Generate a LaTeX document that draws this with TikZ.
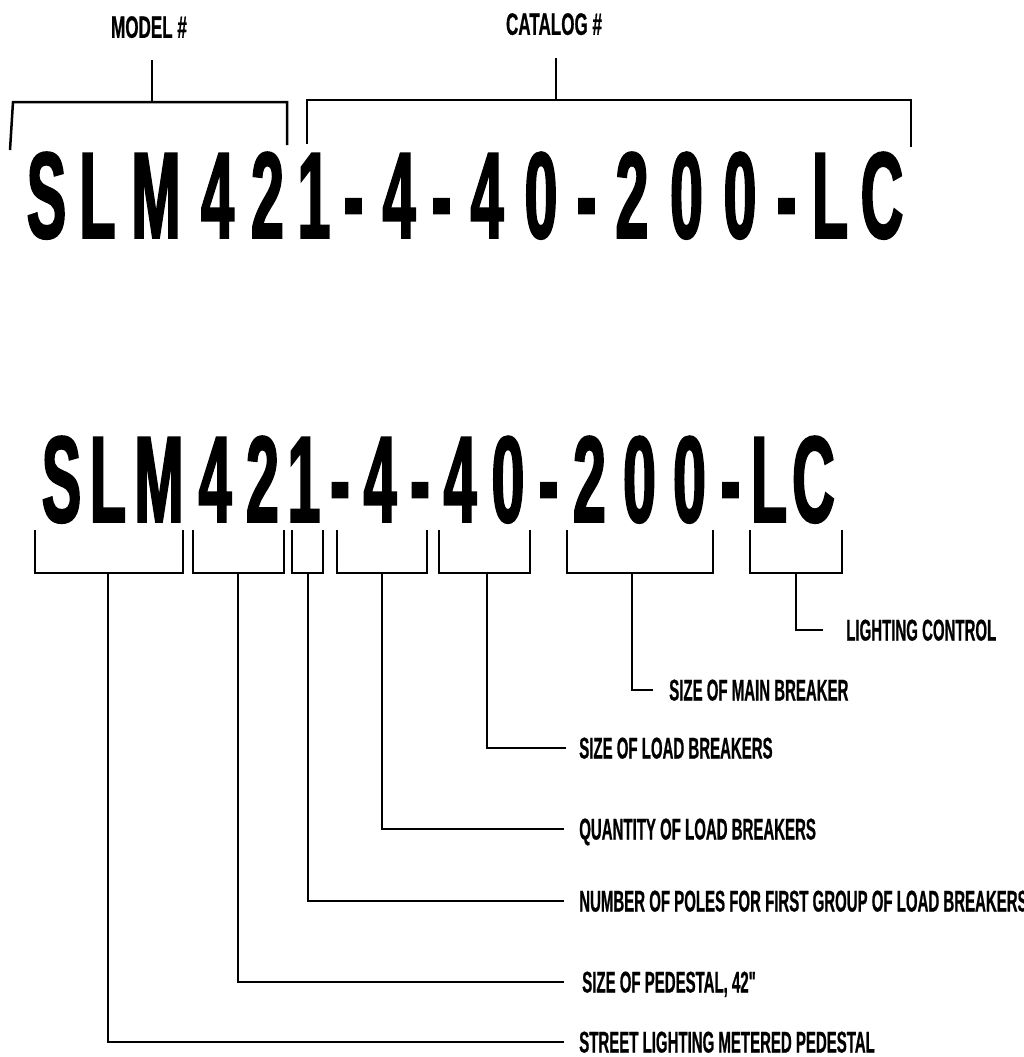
\documentclass[tikz,border=0pt]{standalone}
\usepackage{fontspec}
\newfontfamily\codefont[FakeStretch=0.48,FakeBold=1.5]{Liberation Sans}
\newfontfamily\tagfont[FakeStretch=0.5,FakeBold=0.6]{Liberation Sans}
\newfontfamily\headfont[FakeStretch=0.55,FakeBold=0.6]{Liberation Sans}

\begin{document}
\begin{tikzpicture}[x=1pt,y=-1pt,line width=2.5pt,
        code/.style={anchor=base,inner sep=0pt,font=\codefont\bfseries\fontsize{123}{123}\selectfont},
        tag/.style={anchor=west,inner sep=0pt,text height=21pt,text depth=0pt,font=\tagfont\bfseries\fontsize{30}{30}\selectfont},
        head/.style={inner sep=0pt,text depth=0pt,font=\headfont\bfseries\fontsize{31}{31}\selectfont}]
        \useasboundingbox (0,0) rectangle (1024,1057);
        \node [head] (model) at (149,27) {MODEL \#};
        \node [head] (catalog) at (554,24) {CATALOG \#};
        \foreach \c/\x [count=\i] in {S/46.5,L/97.5,M/156,4/217.5,2/267.5,1/314,-/353.5,4/399,-/441.5,4/487,0/541,-/586.5,2/632,0/686.5,0/740,-/786.5,L/830,C/882}
            \node [code] (t\i) at (\x,238) {\c};
        \draw (10,150) -- (13,102) -- (287,102) -- (287,145);
        \coordinate (mtop) at (152,102);
        \draw [shorten >=21pt] (mtop) -- (mtop |- model.south);
        \draw (307,144) |- (911,100) -- (911,147);
        \coordinate (ctop) at (556,100);
        \draw [shorten >=22pt] (ctop) -- (ctop |- catalog.south);
        \foreach \c/\x [count=\i] in {S/61.5,L/108,M/159,4/215,2/262.5,1/304,-/340,4/380,-/420,4/460,0/508,-/548.5,2/589.5,0/639.5,0/689.5,-/730.5,L/769,C/813.5}
            \node [code] (b\i) at (\x,522) {\c};
        \foreach \a/\b/\s [count=\i] in {35/183/108,193/284/238,292/323/308,337/427/382,439/530/487,567/713/632,750/842/796}
        {
            \draw (\a,530) |- (\b,573) -- (\b,530);
            \coordinate (s\i) at (\s,573);
        }
        \node [tag] (lc) at (845,630) {LIGHTING CONTROL};
        \node [tag] (main) at (668,690) {SIZE OF MAIN BREAKER};
        \node [tag] (load) at (578,748) {SIZE OF LOAD BREAKERS};
        \node [tag] (qty) at (578,829) {QUANTITY OF LOAD BREAKERS};
        \node [tag] (poles) at (578,901) {NUMBER OF POLES FOR FIRST GROUP OF LOAD BREAKERS};
        \node [tag] (ped) at (581,982) {SIZE OF PEDESTAL, 42"};
        \node [tag] (slm) at (578,1042) {STREET LIGHTING METERED PEDESTAL};
        \draw [shorten >=22pt] (s7) |- (lc.west);
        \draw [shorten >=15pt] (s6) |- (main.west);
        \draw [shorten >=12pt] (s5) |- (load.west);
        \draw [shorten >=14pt] (s4) |- (qty.west);
        \draw [shorten >=14pt] (s3) |- (poles.west);
        \draw [shorten >=17pt] (s2) |- (ped.west);
        \draw [shorten >=14pt] (s1) |- (slm.west);
    \end{tikzpicture}
\end{document}
